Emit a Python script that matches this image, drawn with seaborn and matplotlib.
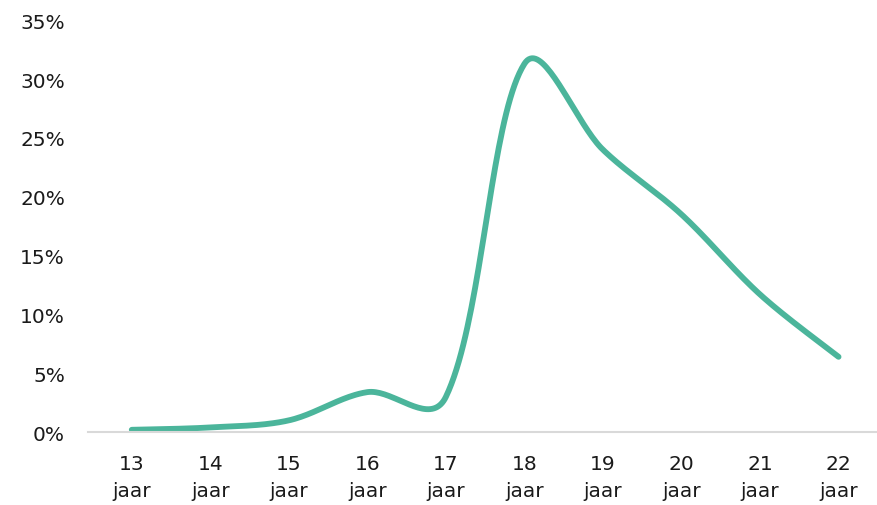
import numpy as np
import pandas as pd
import matplotlib
matplotlib.use("Agg")
import matplotlib.pyplot as plt
import seaborn as sns
from matplotlib.ticker import PercentFormatter

ages = [13, 14, 15, 16, 17, 18, 19, 20, 21, 22]
labels = [f"{a}\njaar" for a in ages]
share = [0.002, 0.004, 0.010, 0.034, 0.030, 0.313, 0.240, 0.185, 0.117, 0.064]

LINE_COLOR = "#4bb59b"


def smooth_curve(x, y, sx=78.4, sy=1180.0, power=0.6, steps=40):
    """Bezier smoothing like a spreadsheet 'smoothed line'.
    Tangents are split by the screen length of neighbouring segments."""
    x = np.asarray(x, dtype=float)
    y = np.asarray(y, dtype=float)
    n = len(x)
    dist = np.hypot(np.diff(x) * sx, np.diff(y) * sy) ** power
    c_out, c_in = [], []
    for i in range(n):
        prev_i, next_i = max(i - 1, 0), min(i + 1, n - 1)
        tx, ty = x[next_i] - x[prev_i], y[next_i] - y[prev_i]
        d_prev = dist[i - 1] if i > 0 else 0.0
        d_next = dist[i] if i < n - 1 else 0.0
        tot = d_prev + d_next
        f_out = d_next / tot / 3 if tot else 0
        f_in = d_prev / tot / 3 if tot else 0
        if i == 0 or i == n - 1:
            f_out, f_in = f_out / 2, f_in / 2
        c_out.append((x[i] + tx * f_out, y[i] + ty * f_out))
        c_in.append((x[i] - tx * f_in, y[i] - ty * f_in))
    t = np.linspace(0, 1, steps)
    xs, ys = [], []
    for i in range(n - 1):
        p1 = (x[i], y[i])
        p2 = (x[i + 1], y[i + 1])
        a, b = c_out[i], c_in[i + 1]
        for k in range(2):
            pts = (1 - t) ** 3 * p1[k] + 3 * (1 - t) ** 2 * t * a[k] + 3 * (1 - t) * t ** 2 * b[k] + t ** 3 * p2[k]
            (xs if k == 0 else ys).extend(pts)
    return np.array(xs), np.array(ys)


sns.set_theme(style="white")
plt.rcParams["font.family"] = ["DejaVu Sans"]

fig = plt.figure(figsize=(8.78, 5.06), dpi=100)
ax = fig.add_axes([0.100, 0.144, 0.898, 0.814])

cx, cy = smooth_curve(ages, share)
curve = pd.DataFrame({"age": cx, "share": cy})
sns.lineplot(data=curve, x="age", y="share", sort=False, color=LINE_COLOR,
             linewidth=4.2, ax=ax, solid_capstyle="round", estimator=None)

ax.set_xlim(12.44, 22.48)
ax.set_ylim(0, 0.35)
ax.set_yticks(np.arange(0, 0.351, 0.05))
ax.yaxis.set_major_formatter(PercentFormatter(1.0, decimals=0))
ax.set_xticks(ages)
ax.set_xticklabels(labels, linespacing=1.5)
ax.tick_params(axis="both", length=0, labelsize=14.5, colors="#1a1a1a")
ax.tick_params(axis="x", pad=16)
ax.tick_params(axis="y", pad=16.5)
ax.set_xlabel("")
ax.set_ylabel("")

for side in ["top", "right", "left"]:
    ax.spines[side].set_visible(False)
ax.spines["bottom"].set_color("#d9d9d9")
ax.spines["bottom"].set_linewidth(1.5)

fig.savefig("out.png", dpi=100)
